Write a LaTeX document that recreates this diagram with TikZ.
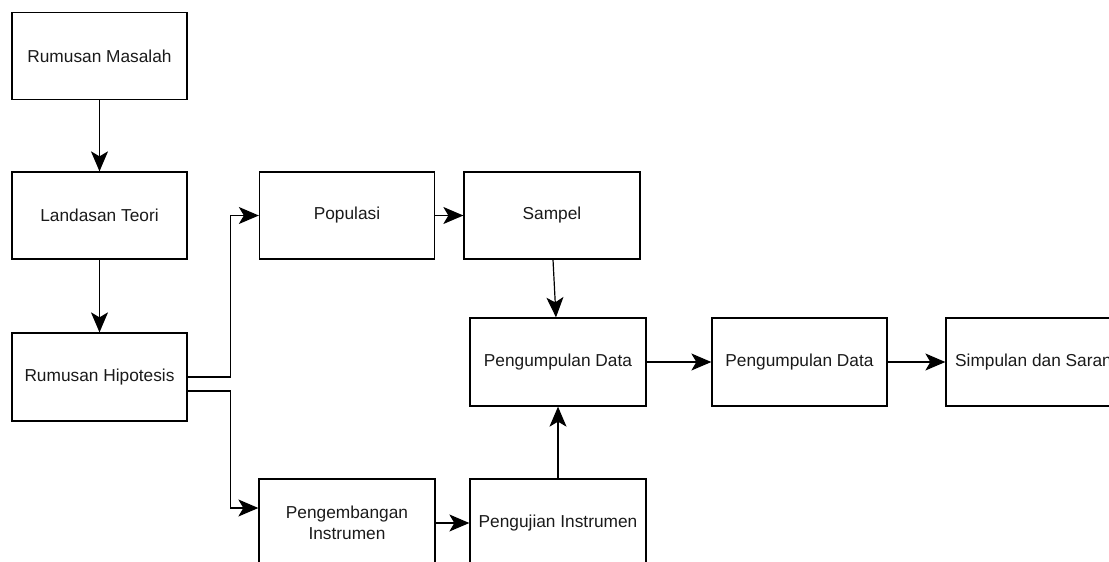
\documentclass[tikz,border=0pt]{standalone}
\usepackage{fontspec}
\setmainfont{Liberation Sans}
\usetikzlibrary{arrows.meta}
\definecolor{txt}{HTML}{1A1A1A}
\tikzset{
  box/.style={draw=black, line width=1.3pt, minimum width=175pt, minimum height=87pt, inner sep=0pt, align=center, text=txt, font=\fontsize{17.3}{20.5}\selectfont},
  tipa/.tip={Stealth[length=20pt,width=17pt,inset=5pt]},
  arr/.style={draw=black, line width=1.2pt, -tipa}
}
\begin{document}
\begin{tikzpicture}[x=1pt,y=-1pt]
\useasboundingbox (0,0) rectangle (1109,562);
\clip (0,0) rectangle (1109,562);
\node[box] (RM) at (99.5,56) {Rumusan Masalah};
\node[box] (LT) at (99.5,215.5) {Landasan Teori};
\node[box,minimum height=88pt] (RH) at (99.5,377) {Rumusan Hipotesis};
\node[box] (PO) at (347,215.5) {Populasi};
\node[box,minimum width=176pt] (SA) at (552,215.5) {Sampel};
\node[box,minimum width=176pt,minimum height=88pt] (PD1) at (558,362) {Pengumpulan Data};
\node[box,minimum height=88pt] (PD2) at (799.5,362) {Pengumpulan Data};
\node[box,minimum height=88pt] (SI) at (1033.5,362) {Simpulan dan Saran};
\node[box,minimum width=176pt,minimum height=88pt] (PE) at (347,523) {Pengembangan\\Instrumen};
\node[box,minimum width=176pt,minimum height=88pt] (PJ) at (558,523) {Pengujian Instrumen};
\draw[arr] (RM) -- (LT);
\draw[arr] (LT) -- (RH);
\draw[arr] (RH.east) -- ++(43,0) |- (PO.west);
\draw[arr] ([yshift=-14pt]RH.east) -- ++(43,0) |- ([yshift=15pt]PE.west);
\draw[arr] (PO) -- (SA);
\draw[arr] ([xshift=1pt]SA.south) -- ([xshift=-2pt]PD1.north);
\draw[arr] (PJ) -- (PD1);
\draw[arr] (PE) -- (PJ);
\draw[arr] (PD1) -- (PD2);
\draw[arr] (PD2) -- (SI);
\end{tikzpicture}
\end{document}
